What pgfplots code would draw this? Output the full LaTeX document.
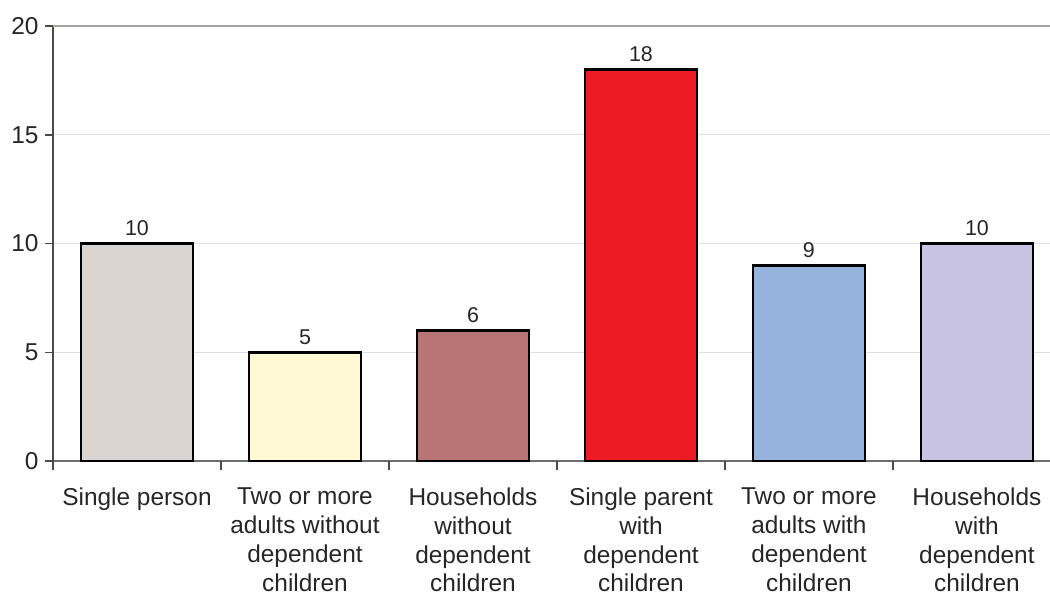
\documentclass[border=0pt]{standalone}
\usepackage{pgfplots}
\pgfplotsset{compat=1.18}
\usepackage{fontspec}
\setmainfont{Liberation Sans}
\usetikzlibrary{calc}
\definecolor{cA}{HTML}{D9D4D0}
\definecolor{cB}{HTML}{FFFAD4}
\definecolor{cC}{HTML}{B97576}
\definecolor{cD}{HTML}{ED1C24}
\definecolor{cE}{HTML}{95B3DC}
\definecolor{cF}{HTML}{C7C3E0}
\definecolor{gridc}{HTML}{E2DEDB}
\definecolor{topc}{HTML}{A9A3A0}
\definecolor{axc}{HTML}{4A4A4A}
\begin{document}
\begin{tikzpicture}
\begin{axis}[
  scale only axis, width=997bp, height=435bp,
  xmin=-0.5, xmax=5.435, ymin=0, ymax=20,
  ybar, bar width=0.667, bar shift=0pt,
  axis x line*=bottom, axis y line*=left,
  axis line style={-},
  x axis line style={draw=axc!80, line width=1.2bp},
  y axis line style={draw=axc, line width=1.5bp},
  ytick={0,5,10,15,20},
  ymajorgrids, grid style={draw=gridc, line width=1bp},
  tick align=outside, major tick length=8bp,
  ytick style={draw=axc, line width=1.5bp},
  yticklabel style={font=\fontsize{24.5}{28}\selectfont, text=black!85, xshift=-3bp},
  /pgf/number format/assume math mode=true,
  xtick={0,1,2,3,4,5},
  xticklabels={{Single person},{Two or more\\adults without\\dependent\\children},{Households\\without\\dependent\\children},{Single parent\\with\\dependent\\children},{Two or more\\adults with\\dependent\\children},{Households\\with\\dependent\\children}},
  xticklabel style={align=center, font=\fontsize{24.5}{29}\selectfont, text=black!85, yshift=-15bp},
  xtick style={draw=none},
  extra x ticks={-0.5,0.5,1.5,2.5,3.5,4.5},
  extra x tick labels={},
  extra x tick style={xtick style={draw=axc, line width=1.2bp}, major tick length=9bp},
  nodes near coords,
  nodes near coords style={font=\fontsize{21.5}{24}\selectfont, text=black!85, anchor=south, yshift=3bp},
  every axis plot/.append style={draw=black, line width=2.5bp},
]
\addplot[fill=cA] coordinates {(0,10)};
\addplot[fill=cB] coordinates {(1,5)};
\addplot[fill=cC] coordinates {(2,6)};
\addplot[fill=cD] coordinates {(3,18)};
\addplot[fill=cE] coordinates {(4,9)};
\addplot[fill=cF] coordinates {(5,10)};
\draw[draw=topc, line width=2bp] (rel axis cs:0,1) -- (rel axis cs:1,1);
\end{axis}
\pgfresetboundingbox
\path[use as bounding box] ($(current axis.south west)+(-53bp,-135bp)$) rectangle ($(current axis.north east)+(0,26bp)$);
\end{tikzpicture}
\end{document}
